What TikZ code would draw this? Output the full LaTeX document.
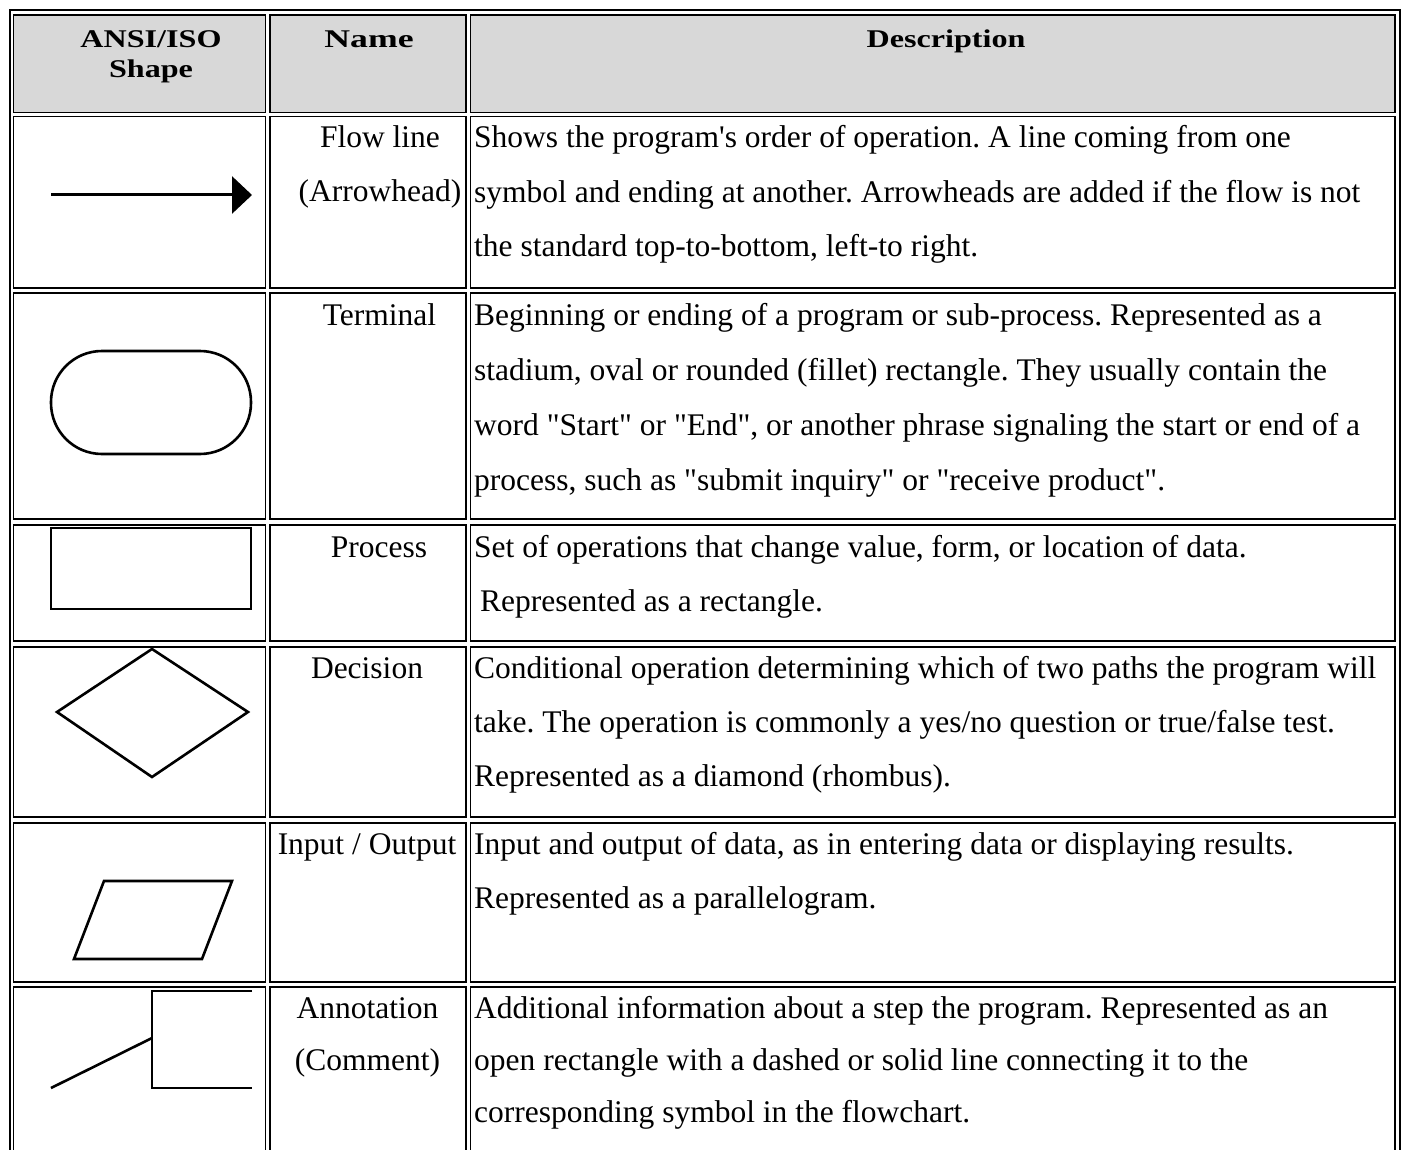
\documentclass[tikz,border=0pt]{standalone}
\usepackage{fontspec}
\setmainfont{Liberation Serif}[Ligatures=TeXOff]
\usetikzlibrary{arrows.meta}
\definecolor{headgray}{RGB}{216,216,216}
\frenchspacing

\tikzset{
  cell/.style={draw,line width=1.3pt},
  headcell/.style={cell,fill=headgray},
  sym/.style={line width=2.6pt,line join=miter},
  headtxt/.style={anchor=base,inner sep=0pt,align=center,font=\fontsize{25.5}{30}\selectfont\bfseries},
  nametxt/.style={anchor=base,inner sep=0pt,align=center,font=\fontsize{31.5}{54}\selectfont},
  desctxt/.style={anchor=base west,inner sep=0pt,align=left,font=\fontsize{31.5}{54}\selectfont}
}

\begin{document}
\begin{tikzpicture}[x=1pt,y=-1pt]
\clip (0,0) rectangle (1407,1150);
\fill[white] (0,0) rectangle (1407,1150);

\draw[line width=2pt] (10,10) rectangle (1400,1170);

\foreach \l/\r in {13.5/265.5, 270/466, 470.5/1395}
  \draw[headcell] (\l,15) rectangle (\r,112.5);
\foreach \t/\b in {116.5/288, 293/519, 525/641, 647/817, 823/982, 987/1175} {
  \draw[cell] (13.5,\t) rectangle (265.5,\b);
  \draw[cell] (270,\t) rectangle (466,\b);
  \draw[cell] (470.5,\t) rectangle (1395,\b);
}

% multi-line nodes sit on the baseline of their last line
\node[headtxt] (hshape) at (151,78) {\scalebox{1.26}[1]{ANSI/ISO}\\\scalebox{1.26}[1]{Shape}};
\node[headtxt] (hname) at (369,48) {\scalebox{1.4}[1]{Name}};
\node[headtxt] (hdesc) at (946,48) {\scalebox{1.26}[1]{Description}};

% symbols
\draw[sym,line width=3pt,-{Triangle[length=20pt,width=37pt]}] (51,195) -- (252,195);
\draw[sym,rounded corners=51pt] (51,351) rectangle (251,454);
\draw[sym] (51,528) rectangle (251,609);
\draw[sym] (57,712) -- (152,649) -- (248,712) -- (152,777) -- cycle;
\draw[sym] (104,881) -- (232,881) -- (202,959) -- (74,959) -- cycle;
\draw[sym] (51,1088) -- (152,1038);
\draw[sym] (252,991) -- (152,991) -- (152,1088) -- (252,1088);

% names
\node[nametxt] (nflow) at (380,202) {Flow line\\(Arrowhead)};
\node[nametxt] (nterm) at (379.5,325) {Terminal};
\node[nametxt] (nproc) at (379,557) {Process};
\node[nametxt] (ndeci) at (367,678) {Decision};
\node[nametxt] (nio) at (367,854) {Input / Output};
\node[nametxt,font=\fontsize{31.5}{52}\selectfont] (nanno) at (367.5,1070) {Annotation\\(Comment)};

% descriptions
\node[desctxt] (dflow) at (474,256) {Shows the program's order of operation. A line coming from one\\
symbol and ending at another. Arrowheads are added if the flow is not\\
the standard top-to-bottom, left-to right.};
\node[desctxt,font=\fontsize{31.5}{55}\selectfont] (dterm) at (474,490) {Beginning or ending of a program or sub-process. Represented as a\\
stadium, oval or rounded (fillet) rectangle. They usually contain the\\
word "Start" or "End", or another phrase signaling the start or end of a\\
process, such as "submit inquiry" or "receive product".};
\node[desctxt] (dproc) at (474,611) {Set of operations that change value, form, or location of data.\\
\hspace*{6pt}Represented as a rectangle.};
\node[desctxt] (ddeci) at (474,786) {Conditional operation determining which of two paths the program will\\
take. The operation is commonly a yes/no question or true/false test.\\
Represented as a diamond (rhombus).};
\node[desctxt] (dio) at (474,908) {Input and output of data, as in entering data or displaying results.\\
Represented as a parallelogram.};
\node[desctxt,font=\fontsize{31.5}{52}\selectfont] (danno) at (474,1122) {Additional information about a step the program. Represented as an\\
open rectangle with a dashed or solid line connecting it to the\\
corresponding symbol in the flowchart.};
\end{tikzpicture}
\end{document}
